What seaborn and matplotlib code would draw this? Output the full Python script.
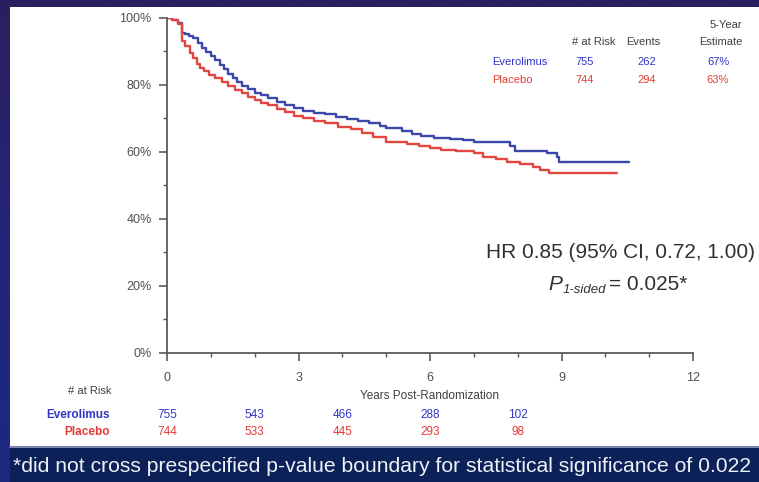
import numpy as np
import pandas as pd
import matplotlib
matplotlib.use("Agg")
import matplotlib.pyplot as plt
import seaborn as sns
from matplotlib.patches import Rectangle
from matplotlib.lines import Line2D
from matplotlib.colors import LinearSegmentedColormap
from matplotlib.ticker import MultipleLocator, FuncFormatter

# Kaplan-Meier estimates: years post-randomization vs. % event-free
evero_t = [0, 0.12, 0.25, 0.34, 0.42, 0.5, 0.6, 0.7, 0.8, 0.9, 1.0, 1.1, 1.2, 1.3,
           1.4, 1.5, 1.6, 1.7, 1.85, 2.0, 2.15, 2.3, 2.5, 2.7, 2.9, 3.1, 3.35, 3.6,
           3.85, 4.1, 4.35, 4.6, 4.85, 5.0, 5.35, 5.6, 5.8, 6.1, 6.45, 6.75, 7.0,
           7.83, 7.95, 8.68, 8.9, 8.95, 10.55]
evero_s = [100, 99.3, 98.5, 95.5, 95.0, 94.5, 94.0, 92.5, 91.0, 89.8, 88.7, 87.3,
           86.0, 84.8, 83.3, 82.0, 80.8, 79.6, 78.6, 77.6, 76.8, 75.9, 74.8, 73.8,
           72.9, 72.2, 71.7, 71.3, 70.5, 69.9, 69.1, 68.5, 67.8, 67.0, 66.2, 65.4,
           64.6, 64.2, 63.8, 63.4, 63.0, 61.8, 60.3, 59.7, 58.5, 57.0, 57.0]

placebo_t = [0, 0.12, 0.25, 0.34, 0.42, 0.52, 0.6, 0.68, 0.76, 0.85, 0.95, 1.1,
             1.25, 1.4, 1.55, 1.7, 1.85, 2.0, 2.15, 2.3, 2.5, 2.7, 2.9, 3.1, 3.35,
             3.6, 3.9, 4.2, 4.45, 4.7, 5.0, 5.47, 5.75, 6.0, 6.25, 6.6, 7.0, 7.2,
             7.5, 7.76, 8.05, 8.36, 8.5, 8.72, 10.27]
placebo_s = [100, 99.2, 98.2, 93.0, 91.5, 89.5, 88.0, 86.2, 85.0, 84.0, 83.0, 82.0,
             80.8, 79.5, 78.5, 77.4, 76.4, 75.5, 74.6, 73.8, 72.8, 71.8, 70.8, 70.0,
             69.2, 68.5, 67.5, 66.7, 65.6, 64.3, 63.0, 62.2, 61.6, 61.0, 60.6, 60.1,
             59.7, 58.5, 57.8, 57.0, 56.2, 55.4, 54.6, 53.7, 53.7]

# number at risk below the x axis
risk_years = [0, 2, 4, 6, 8]
evero_risk = [755, 543, 466, 288, 102]
placebo_risk = [744, 533, 445, 293, 98]

# summary table in the upper right
summary_events = {"Everolimus": 262, "Placebo": 294}
summary_n = {"Everolimus": 755, "Placebo": 744}
summary_est = {"Everolimus": "67%", "Placebo": "63%"}

x_ticks = [0, 3, 6, 9, 12]
y_ticks = [0, 20, 40, 60, 80, 100]

arm_colors = {"Everolimus": "#3b47a9", "Placebo": "#e2463f"}
text_colors = {"Everolimus": "#3236c4", "Placebo": "#e23b35"}

W, H = 759, 482
sns.set_theme(style="ticks")
plt.rcParams["font.family"] = ["Liberation Sans", "DejaVu Sans"]

fig = plt.figure(figsize=(W / 100, H / 100), dpi=100)


def fx(px):
    return px / W


def fy(py):
    return 1 - py / H


# slide backdrop with a soft vertical gradient
bg = fig.add_axes([0, 0, 1, 1], zorder=-10)
cmap = LinearSegmentedColormap.from_list("slide", ["#2b1f5d", "#23247a", "#1b2a80"])
bg.imshow(np.linspace(0, 1, 256).reshape(-1, 1), aspect="auto", cmap=cmap,
          extent=[0, 1, 0, 1])
bg.set_xlim(0, 1)
bg.set_ylim(0, 1)
bg.axis("off")

# white chart panel and footnote bar
fig.add_artist(Rectangle((fx(10), fy(446)), fx(759) - fx(10), (446 - 7) / H,
                         transform=fig.transFigure, facecolor="white",
                         edgecolor="none", zorder=-5))
fig.add_artist(Rectangle((fx(10), 0), fx(759) - fx(10), (482 - 448) / H,
                         transform=fig.transFigure, facecolor="#0b2157",
                         edgecolor="none", zorder=-5))
fig.add_artist(Line2D([fx(10), 1], [fy(447), fy(447)], transform=fig.transFigure,
                      color="#8a97b8", linewidth=1.2, zorder=-4))

ax = fig.add_axes([fx(167), fy(352.7), (693 - 167) / W, (352.7 - 17.7) / H])
ax.patch.set_alpha(0)

df = pd.concat([
    pd.DataFrame({"Years": evero_t, "Survival": evero_s, "Arm": "Everolimus"}),
    pd.DataFrame({"Years": placebo_t, "Survival": placebo_s, "Arm": "Placebo"}),
], ignore_index=True)

sns.lineplot(data=df, x="Years", y="Survival", hue="Arm", palette=arm_colors,
             estimator=None, sort=False, legend=False, linewidth=1.7,
             drawstyle="steps-post", ax=ax)

ax.set_xlim(0, 12)
ax.set_ylim(0, 100)
ax.set_xticks(x_ticks)
ax.set_yticks(y_ticks)
ax.xaxis.set_minor_locator(MultipleLocator(1))
ax.yaxis.set_minor_locator(MultipleLocator(10))
ax.yaxis.set_major_formatter(FuncFormatter(lambda v, _: f"{v:.0f}%"))
sns.despine(ax=ax)
for side in ("left", "bottom"):
    ax.spines[side].set_color("#5a5a5a")
    ax.spines[side].set_linewidth(1.3)
ax.tick_params(which="major", length=6, width=1.2, color="#5a5a5a",
               labelcolor="#505050", labelsize=9)
ax.tick_params(axis="y", which="major", pad=5)
ax.tick_params(axis="x", which="major", pad=8)
ax.tick_params(which="minor", length=3, width=1.0, color="#5a5a5a")
ax.set_xlabel("Years Post-Randomization", fontsize=8.5, color="#404040", labelpad=4)
ax.set_ylabel("")

# number at risk table
fig.text(fx(112), fy(391), "# at Risk", ha="right", va="center", fontsize=8,
         color="#404040")
for arm, counts, py in (("Everolimus", evero_risk, 415), ("Placebo", placebo_risk, 432)):
    fig.text(fx(110), fy(py), arm, ha="right", va="center", fontsize=8.5,
             fontweight="bold", color=text_colors[arm])
    ya = (352.7 - py) / 335.0
    for t, n in zip(risk_years, counts):
        ax.text(t, ya, str(n), transform=ax.get_xaxis_transform(), ha="center",
                va="center", fontsize=8.5, color=text_colors[arm], clip_on=False)

# summary table
fig.text(fx(594), fy(42), "# at Risk", ha="center", va="center", fontsize=8,
         color="#404040")
fig.text(fx(643), fy(42), "Events", ha="center", va="center", fontsize=8,
         color="#404040")
fig.text(fx(742), fy(25), "5-Year", ha="right", va="center", fontsize=8,
         color="#404040")
fig.text(fx(742), fy(42), "Estimate", ha="right", va="center", fontsize=8,
         color="#404040")
for arm, py in (("Everolimus", 62), ("Placebo", 80)):
    c = text_colors[arm]
    fig.text(fx(492), fy(py), arm, ha="left", va="center", fontsize=8, color=c)
    fig.text(fx(585), fy(py), str(summary_n[arm]), ha="center", va="center",
             fontsize=8, color=c)
    fig.text(fx(647), fy(py), str(summary_events[arm]), ha="center", va="center",
             fontsize=8, color=c)
    fig.text(fx(718), fy(py), summary_est[arm], ha="center", va="center",
             fontsize=8, color=c)

# hazard ratio annotation
fig.text(fx(486), fy(253), "HR 0.85 (95% CI, 0.72, 1.00)", ha="left", va="center",
         fontsize=15, color="#303030")
fig.canvas.draw()
renderer = fig.canvas.get_renderer()
base = fy(289.5)
p_txt = fig.text(fx(548), base, "P", ha="left", va="baseline", fontsize=15,
                 style="italic", color="#303030")
x1 = p_txt.get_window_extent(renderer).x1 / W
sub_txt = fig.text(x1 + fx(1), fy(293), "1-sided", ha="left", va="baseline",
                   fontsize=9.5, style="italic", color="#303030")
x2 = sub_txt.get_window_extent(renderer).x1 / W
fig.text(x2 + fx(3), base, "= 0.025*", ha="left", va="baseline", fontsize=15,
         color="#303030")

# footnote
fig.text(fx(13), fy(466), "*did not cross prespecified p-value boundary for "
         "statistical significance of 0.022", ha="left", va="center",
         fontsize=15.2, color="#eef2f8")

fig.savefig("out.png", dpi=100)
